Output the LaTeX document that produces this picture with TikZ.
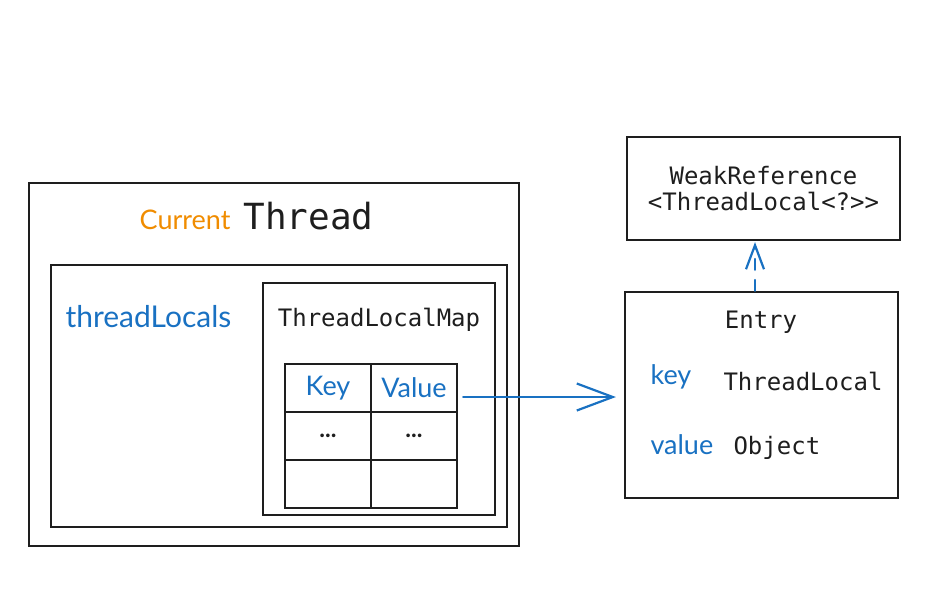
\documentclass[tikz,border=0pt]{standalone}
\usepackage{fontspec}
\usepackage{xcolor}
\usetikzlibrary{arrows.meta}
\newfontfamily\codefont{DejaVu Sans Mono}
\newfontfamily\handfont{Lato}
\definecolor{handblue}{HTML}{1971C2}
\definecolor{handorange}{HTML}{F08C00}
\definecolor{inkblack}{HTML}{1E1E1E}
\tikzstyle{box} = [draw=inkblack, line width=2.2pt, inner sep=0pt]
\tikzstyle{cell} = [box, minimum width=86pt, minimum height=48pt]
\tikzstyle{mono} = [font=\codefont\fontsize{24}{28}\selectfont, text=inkblack]
\tikzstyle{hand} = [font=\handfont\fontsize{27}{30}\selectfont, text=handblue]
\tikzstyle{link} = [draw=handblue, line width=2.2pt, line cap=round]

\begin{document}
\begin{tikzpicture}[x=1pt,y=-1pt]
\useasboundingbox (0,0) rectangle (925,606);
% thread side
\node[box, minimum width=490pt, minimum height=363pt] (thread) at (274,364.5) {};
\node[box, minimum width=456pt, minimum height=262pt] (locals) at (279,396) {};
\node[box, minimum width=232pt, minimum height=232pt] (map) at (379,399) {};
\node[hand, text=handorange, anchor=base east] (cur) at (234,229) {Current};
\node[font=\codefont\fontsize{36}{40}\selectfont, text=inkblack, anchor=base west] (title) at (240,229) {Thread};
\node[hand, font=\handfont\fontsize{30}{32}\selectfont, anchor=west] (tl) at (62,317) {threadLocals};
\node[mono] (maplabel) at (379,320) {ThreadLocalMap};
%
\node[cell] (k1) at (328,388) {};
\node[cell] (v1) at (414,388) {};
\node[cell] (k2) at (328,436) {};
\node[cell] (v2) at (414,436) {};
\node[cell] (k3) at (328,484) {};
\node[cell] (v3) at (414,484) {};
\node[hand] at (k1) {Key};
\node[hand] at (v1) {Value};
\node[hand, text=inkblack, font=\handfont\bfseries\fontsize{24}{28}\selectfont] at (k2) {...};
\node[hand, text=inkblack, font=\handfont\bfseries\fontsize{24}{28}\selectfont] at (v2) {...};
% entry side
\node[box, minimum width=273pt, minimum height=206pt] (entry) at (761.5,395) {};
\node[box, minimum width=273pt, minimum height=103pt] (weak) at (763.5,188.5) {};
\node[mono, align=center] (weaklabel) at (weak) {WeakReference\\[-2pt]<ThreadLocal<?>>};
\node[mono] (entrylabel) at (761,322) {Entry};
\node[hand, anchor=west] (kname) at (647,377) {key};
\node[mono, anchor=west] (ktype) at (720,381) {ThreadLocal};
\node[hand, anchor=west] (vname) at (647,445) {value};
\node[mono, anchor=west] (vtype) at (730,448) {Object};
%
\draw[link, -{Straight Barb[length=36pt, width=27pt, line width=2.2pt]}, shorten >=8pt]
  ([shift={(5,9)}]v1.east) -- ([shift={(0,9)}]v1.east -| entry.west);
\draw[link, dash pattern=on 11pt off 10pt, -{Straight Barb[length=24pt, width=18pt, line width=2.2pt]}, shorten >=1pt]
  ([xshift=-6.5pt]entry.north) -- ([xshift=-6.5pt]entry.north |- weak.south);
\end{tikzpicture}
\end{document}
